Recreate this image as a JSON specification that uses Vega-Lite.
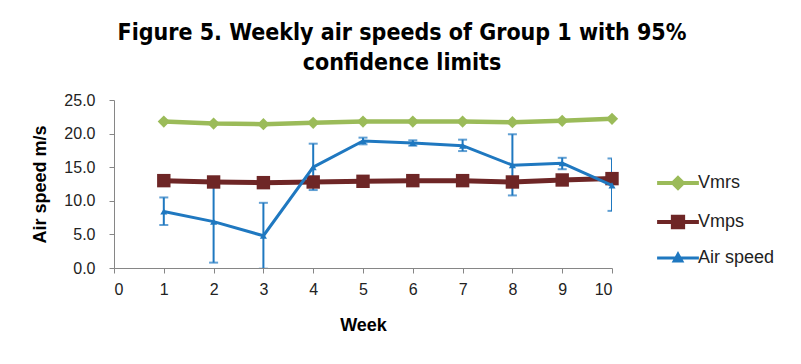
{
  "$schema": "https://vega.github.io/schema/vega-lite/v6.json",
  "autosize": "none",
  "width": 498,
  "height": 168,
  "padding": {"left": 114, "top": 100, "right": 189, "bottom": 96},
  "background": "white",
  "title": {
    "text": ["Figure 5. Weekly air speeds of Group 1 with 95%", "confidence limits"],
    "font": "DejaVu Sans Condensed",
    "fontSize": 23,
    "fontWeight": "bold",
    "color": "black",
    "anchor": "middle",
    "dx": 39,
    "offset": 17,
    "lineHeight": 30
  },
  "config": {
    "view": {"stroke": null},
    "axis": {
      "grid": false,
      "domainColor": "#868686",
      "tickColor": "#868686",
      "tickSize": 5,
      "labelFont": "Liberation Sans",
      "labelFontSize": 16,
      "labelColor": "#222222",
      "titleFont": "Liberation Sans",
      "titleFontSize": 18,
      "titleFontWeight": "bold",
      "titleColor": "black"
    }
  },
  "datasets": {
    "speeds": [
      {"week": 1, "series": "Vmrs", "value": 21.8},
      {"week": 2, "series": "Vmrs", "value": 21.5},
      {"week": 3, "series": "Vmrs", "value": 21.4},
      {"week": 4, "series": "Vmrs", "value": 21.6},
      {"week": 5, "series": "Vmrs", "value": 21.8},
      {"week": 6, "series": "Vmrs", "value": 21.8},
      {"week": 7, "series": "Vmrs", "value": 21.8},
      {"week": 8, "series": "Vmrs", "value": 21.7},
      {"week": 9, "series": "Vmrs", "value": 21.9},
      {"week": 10, "series": "Vmrs", "value": 22.2},
      {"week": 1, "series": "Vmps", "value": 13.0},
      {"week": 2, "series": "Vmps", "value": 12.8},
      {"week": 3, "series": "Vmps", "value": 12.7},
      {"week": 4, "series": "Vmps", "value": 12.8},
      {"week": 5, "series": "Vmps", "value": 12.9},
      {"week": 6, "series": "Vmps", "value": 13.0},
      {"week": 7, "series": "Vmps", "value": 13.0},
      {"week": 8, "series": "Vmps", "value": 12.8},
      {"week": 9, "series": "Vmps", "value": 13.1},
      {"week": 10, "series": "Vmps", "value": 13.3},
      {"week": 1, "series": "Air speed", "value": 8.4, "lo": 6.4, "hi": 10.5},
      {"week": 2, "series": "Air speed", "value": 6.9, "lo": 0.8, "hi": 13.0},
      {"week": 3, "series": "Air speed", "value": 4.8, "lo": -0.1, "hi": 9.7},
      {"week": 4, "series": "Air speed", "value": 15.0, "lo": 11.6, "hi": 18.5},
      {"week": 5, "series": "Air speed", "value": 18.9, "lo": 18.4, "hi": 19.4},
      {"week": 6, "series": "Air speed", "value": 18.6, "lo": 18.2, "hi": 19.0},
      {"week": 7, "series": "Air speed", "value": 18.2, "lo": 17.4, "hi": 19.1},
      {"week": 8, "series": "Air speed", "value": 15.3, "lo": 10.8, "hi": 19.9},
      {"week": 9, "series": "Air speed", "value": 15.6, "lo": 14.7, "hi": 16.4},
      {"week": 10, "series": "Air speed", "value": 12.3, "lo": 8.5, "hi": 16.3}
    ]
  },
  "data": {"name": "speeds"},
  "encoding": {
    "x": {
      "field": "week", "type": "quantitative",
      "scale": {"domain": [0, 10], "nice": false, "zero": false},
      "axis": {"values": [0,1,2,3,4,5,6,7,8,9,10], "title": "Week", "labelPadding": 8, "titlePadding": 19, "format": "d"}
    },
    "y": {
      "field": "value", "type": "quantitative",
      "scale": {"domain": [0, 25], "nice": false},
      "axis": {"values": [0,5,10,15,20,25], "format": ".1f", "title": "Air speed m/s", "labelPadding": 14, "titlePadding": 14}
    },
    "color": {
      "field": "series", "type": "nominal",
      "scale": {"domain": ["Vmrs", "Vmps", "Air speed"], "range": ["#9BBB59", "#6E2626", "#1F78C0"]},
      "legend": {
        "title": null, "orient": "none", "legendX": 555, "legendY": 74,
        "padding": 0, "symbolSize": 1444, "rowPadding": 12, "labelOffset": 11,
        "labelFont": "Liberation Sans", "labelFontSize": 18, "labelColor": "#222222",
        "encode": {"symbols": {"update": {
          "opacity": {"value": 1},
          "shape": {"signal": "datum.value === 'Vmrs' ? 'M-1.1,0H1.1M0,-0.26L0.26,0L0,0.26L-0.26,0Z' : datum.value === 'Vmps' ? 'M-1.1,0H1.1M-0.27,-0.27H0.27V0.27H-0.27Z' : 'M-1.1,0H1.1M0,-0.2L0.2,0.16H-0.2Z'"},
          "fill": {"scale": "color", "field": "value"},
          "stroke": {"scale": "color", "field": "value"},
          "strokeWidth": {"signal": "datum.value === 'Air speed' ? 3 : 4"}
        }}}
      }
    }
  },
  "layer": [
    {
      "transform": [{"filter": "datum.series === 'Vmrs'"}],
      "mark": {"type": "line", "strokeWidth": 4.5, "strokeJoin": "round"}
    },
    {
      "transform": [{"filter": "datum.series === 'Vmps'"}],
      "mark": {"type": "line", "strokeWidth": 5, "strokeJoin": "round"}
    },
    {
      "transform": [{"filter": "datum.series === 'Air speed'"}],
      "mark": {"type": "rule", "strokeWidth": 2, "clip": true},
      "encoding": {"y": {"field": "lo", "type": "quantitative"}, "y2": {"field": "hi"}}
    },
    {
      "transform": [{"filter": "datum.series === 'Air speed'"}],
      "mark": {"type": "tick", "orient": "horizontal", "size": 9, "thickness": 2, "clip": true},
      "encoding": {"y": {"field": "lo", "type": "quantitative"}}
    },
    {
      "transform": [{"filter": "datum.series === 'Air speed'"}],
      "mark": {"type": "tick", "orient": "horizontal", "size": 9, "thickness": 2, "clip": true},
      "encoding": {"y": {"field": "hi", "type": "quantitative"}}
    },
    {
      "transform": [{"filter": "datum.series === 'Vmrs'"}],
      "mark": {"type": "point", "filled": true, "opacity": 1, "shape": "diamond", "size": 150}
    },
    {
      "transform": [{"filter": "datum.series === 'Vmps'"}],
      "mark": {"type": "point", "filled": true, "opacity": 1, "shape": "square", "size": 180}
    },
    {
      "transform": [{"filter": "datum.series === 'Air speed'"}],
      "mark": {"type": "line", "strokeWidth": 3, "strokeJoin": "round"}
    },
    {
      "transform": [{"filter": "datum.series === 'Air speed'"}],
      "mark": {"type": "point", "filled": true, "opacity": 1, "shape": "triangle-up", "size": 50}
    }
  ]
}
